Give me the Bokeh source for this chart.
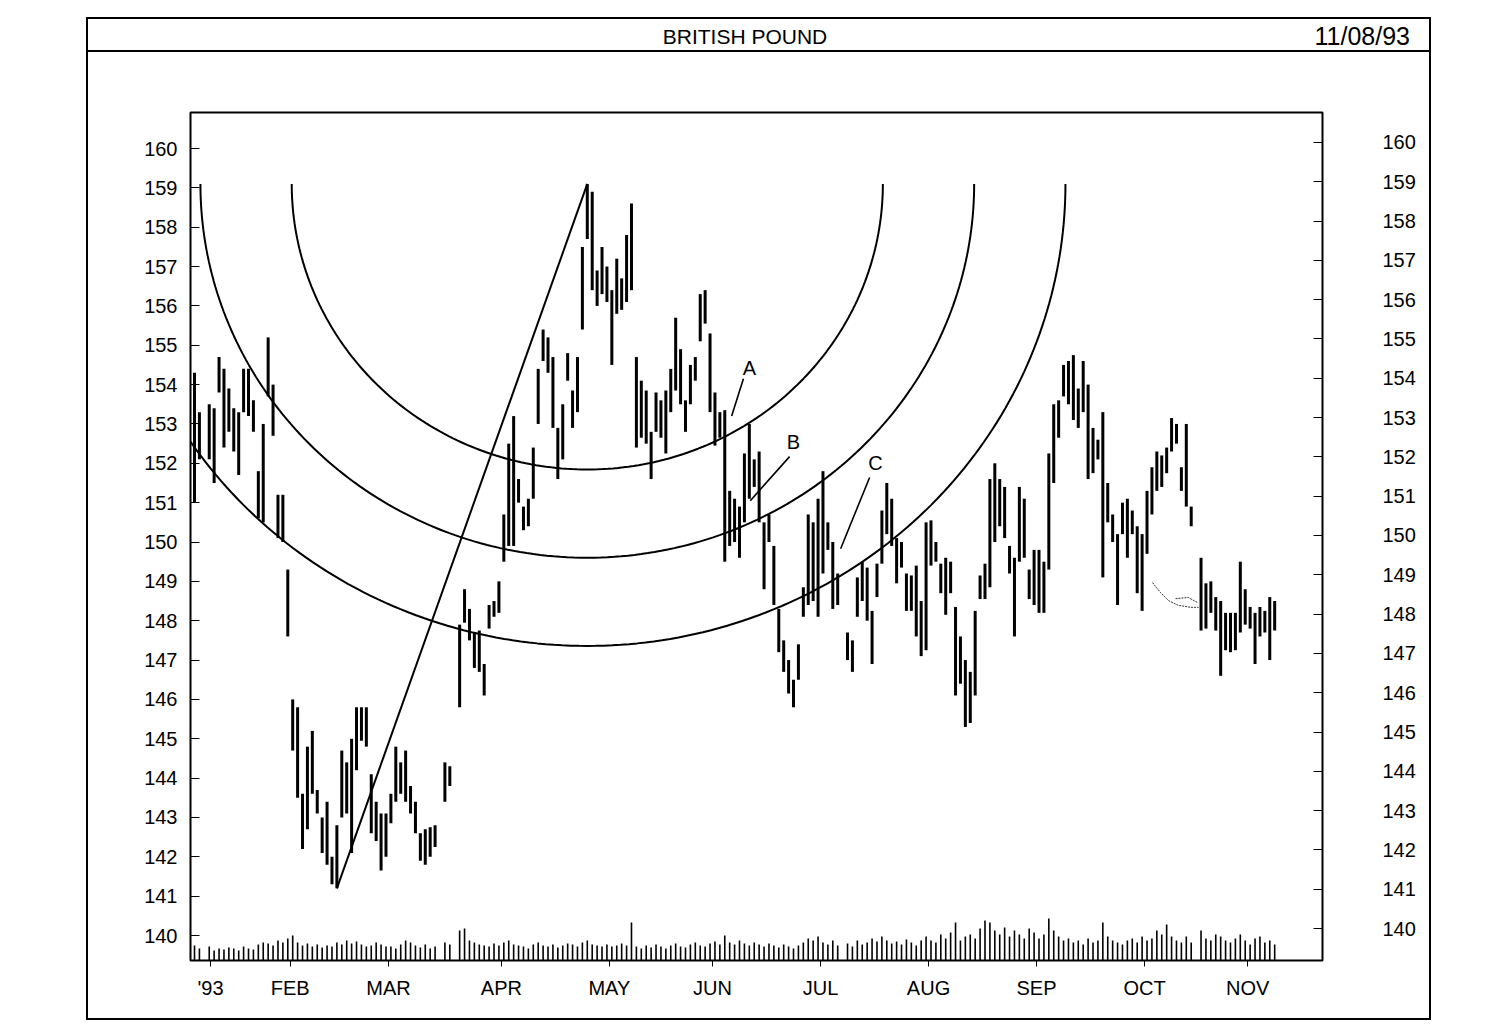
import math
import numpy as np
from bokeh.plotting import figure
from bokeh.models import Range1d, LinearAxis, FixedTicker, Div, Spacer
from bokeh.layouts import column, row
from bokeh.embed import file_html
from bokeh.resources import INLINE
from bokeh.core.properties import value

title = "BRITISH POUND"
date_text = "11/08/93"

# trading-day index (0 = first trading day of 1993)
day = [0, 1, 3, 4, 5, 6, 7, 8, 9, 10, 11, 12, 13, 14, 15, 16, 17, 18, 19,
       20, 21, 22, 23, 24, 25, 26, 27, 28, 29, 30, 31, 32, 33, 34, 35, 36, 37, 38, 39,
       40, 41, 42, 43, 44, 45, 46, 47, 48, 49, 51, 52, 54, 55, 56, 57, 58, 59, 60, 61, 62, 63, 64,
       65, 66, 67, 68, 69, 70, 71, 72, 73, 74, 75, 76, 77, 78, 79, 80, 81, 82, 83, 84, 85, 86, 87, 88, 89,
       90, 91, 92, 93, 94, 95, 96, 97, 98, 99, 100, 101, 102, 103, 104, 105, 106, 107, 108, 109,
       110, 111, 112, 113, 114, 115, 116, 117, 118, 119, 120, 121, 122, 123, 124, 125, 126, 127, 128,
       129, 130, 131, 133, 134, 135, 136, 137, 138, 139, 140, 141, 142, 143, 144, 145, 146, 147, 148,
       149, 150, 151, 152, 153, 154, 155, 156, 157, 158, 159, 160, 161, 162, 163, 164, 165, 166, 167,
       168, 169, 170, 171, 172, 173, 174, 175, 176, 177, 178, 179, 180, 181, 182, 183, 184, 185, 186,
       187, 188, 189, 190, 191, 192, 193, 194, 195, 196, 197, 198, 199, 200, 201, 202, 203,
       205, 206, 207, 208, 209, 210, 211, 212, 213, 214, 215, 216, 217, 218, 219, 220]

high = [154.3, 153.3, 153.5, 153.4, 154.7, 154.4, 153.9, 153.4, 153.3, 154.4, 154.4, 153.6, 151.8, 153.0, 155.2, 154.0, 151.2, 151.2, 149.3,
        146.0, 145.8, 143.6, 144.8, 145.2, 143.7, 143.0, 143.4, 142.0, 142.8, 144.7, 144.4, 145.0, 145.8, 145.8, 145.8, 144.1, 143.4, 143.1, 143.1,
        143.6, 144.8, 144.4, 144.7, 143.8, 143.4, 142.6, 142.7, 142.75, 142.8, 144.4, 144.3, 147.9, 148.8, 148.3, 147.7, 147.75, 146.9, 148.4, 148.5, 149.0, 150.7, 152.5,
        153.2, 151.6, 150.9, 151.1, 152.4, 154.4, 155.4, 155.2, 154.7, 152.9, 153.5, 154.8, 153.85, 154.7, 157.5, 159.1, 158.9, 156.9, 157.5, 157.0, 156.4, 157.2, 156.7, 157.8, 158.6,
        154.7, 154.1, 153.85, 152.8, 153.8, 153.6, 153.85, 154.4, 155.7, 154.9, 153.6, 154.5, 154.7, 156.3, 156.4, 155.3, 153.8, 153.3, 153.35, 151.3,
        151.1, 150.9, 152.25, 153.0, 152.1, 152.3, 150.5, 150.7, 149.9, 148.3, 147.5, 147.0, 146.5, 147.4, 148.85, 150.7, 150.5, 151.1, 151.8,
        150.5, 150.0, 149.2, 147.7, 147.5, 149.1, 149.5, 149.35, 148.25, 149.45, 150.8, 151.5, 151.1, 150.1, 150.0, 149.2, 149.15, 149.4, 148.5,
        150.5, 150.55, 150.0, 149.45, 149.6, 149.5, 148.35, 147.6, 147.0, 146.7, 148.25, 149.15, 149.45, 151.6, 152.0, 151.6, 151.4, 149.9, 149.6,
        151.4, 151.1, 149.3, 149.8, 149.8, 149.5, 152.25, 153.5, 153.6, 154.5, 154.6, 154.75, 153.9, 154.6, 154.0, 152.9, 152.6, 153.3, 151.5,
        150.7, 150.2, 151.0, 151.1, 150.8, 150.4, 150.2, 151.3, 151.9, 152.3, 152.2, 152.4, 153.15, 153.0, 151.9, 153.0, 150.9,
        149.6, 148.95, 149.0, 148.6, 148.5, 148.2, 148.2, 148.2, 149.5, 148.8, 148.35, 148.2, 148.35, 148.25, 148.6, 148.5]

low = [151.0, 152.1, 152.1, 151.5, 153.8, 152.4, 152.8, 152.3, 151.7, 153.3, 153.2, 152.8, 150.6, 150.5, 153.7, 152.7, 150.1, 150.0, 147.6,
       144.7, 143.5, 142.2, 142.7, 143.6, 143.1, 142.1, 141.8, 141.3, 141.2, 143.0, 143.1, 142.1, 144.2, 144.95, 144.8, 142.6, 142.4, 141.65, 142.0,
       142.85, 143.4, 143.6, 143.4, 143.1, 142.6, 141.9, 141.8, 142.0, 142.25, 143.4, 143.8, 145.8, 147.95, 147.5, 146.8, 146.7, 146.1, 147.8, 148.1, 148.2, 149.5, 149.9,
       149.9, 151.0, 150.3, 150.4, 151.1, 153.0, 154.6, 154.3, 152.9, 151.6, 152.1, 154.1, 152.9, 153.3, 155.4, 157.7, 156.4, 156.0, 156.3, 156.1, 154.5, 155.8, 155.9, 156.1, 156.4,
       152.4, 152.65, 152.5, 151.6, 152.8, 152.65, 152.25, 153.3, 153.85, 153.5, 152.8, 153.5, 154.1, 155.1, 155.55, 153.3, 152.45, 152.65, 149.5, 149.9,
       150.0, 149.6, 150.5, 151.1, 151.4, 150.5, 148.8, 150.0, 148.4, 147.2, 146.7, 146.15, 145.8, 146.5, 148.1, 148.4, 148.5, 148.1, 149.2,
       149.8, 148.3, 148.4, 147.0, 146.7, 148.1, 148.5, 148.0, 146.9, 148.6, 149.45, 150.2, 149.9, 148.95, 149.35, 148.25, 148.25, 147.6, 147.1,
       147.25, 149.4, 149.5, 148.7, 148.15, 148.7, 146.1, 146.4, 145.3, 145.4, 146.1, 148.55, 148.55, 148.85, 150.0, 150.4, 150.1, 149.2, 147.6,
       149.5, 149.6, 148.55, 148.4, 148.2, 148.2, 149.3, 151.5, 152.65, 153.7, 153.5, 153.1, 152.9, 153.3, 151.6, 151.75, 152.1, 149.1, 150.5,
       150.0, 148.4, 150.2, 149.6, 150.2, 148.7, 148.25, 149.7, 150.7, 151.3, 151.4, 151.75, 152.3, 152.5, 151.3, 150.9, 150.4,
       147.75, 147.8, 148.2, 147.75, 146.6, 147.25, 147.2, 147.25, 147.7, 147.9, 147.8, 146.9, 147.6, 147.7, 147.0, 147.75]

volume = [15, 12, 14, 10, 12, 11, 13, 12, 10, 14, 12, 11, 16, 18, 17, 15, 20, 18, 22,
          25, 18, 15, 17, 14, 16, 13, 15, 14, 18, 16, 20, 17, 19, 16, 14, 15, 18, 16, 14,
          14, 12, 16, 20, 18, 15, 13, 16, 12, 14, 18, 16, 30, 32, 20, 18, 16, 15, 14, 17, 15, 18, 20,
          16, 15, 14, 12, 16, 18, 15, 14, 16, 13, 15, 17, 16, 14, 18, 20, 16, 15, 14, 16, 14, 15, 17, 15, 38,
          14, 12, 15, 13, 16, 14, 12, 15, 17, 14, 13, 16, 18, 15, 14, 17, 19, 16, 25, 18,
          16, 20, 17, 15, 18, 16, 14, 17, 15, 13, 16, 14, 12, 15, 18, 22, 20, 24, 18,
          16, 20, 15, 17, 14, 20, 16, 18, 22, 19, 24, 20, 17, 19, 16, 21, 18, 15, 20,
          24, 20, 18, 26, 22, 28, 38, 20, 24, 26, 22, 32, 40, 38, 30, 26, 33, 24, 30,
          26, 22, 32, 28, 22, 26, 42, 30, 24, 20, 22, 18, 20, 16, 22, 18, 20, 38, 24,
          20, 18, 16, 20, 22, 18, 24, 20, 22, 30, 26, 36, 24, 20, 18, 24, 18,
          30, 22, 20, 26, 24, 20, 18, 22, 26, 20, 16, 22, 24, 18, 20, 16]

month_pos = [3.26, 19.5, 39.5, 62.5, 84.5, 105.5, 127.5, 149.5, 171.5, 193.5, 214.5]
month_lab = ["'93", "FEB", "MAR", "APR", "MAY", "JUN", "JUL", "AUG", "SEP", "OCT", "NOV"]
price_ticks = list(range(140, 161))

fib_ratios = [0.382, 0.5, 0.618]
arc_aspect = 1.035          # arcs are slightly wider than tall on the original chart
note_text = ["A", "B", "C"]
note_x = [113.0, 122.0, 138.7]
note_y = [154.43, 152.55, 152.0]
ptr_x0 = [111.8, 121.2, 137.5]
ptr_y0 = [154.15, 152.17, 151.64]
ptr_x1 = [109.4, 113.2, 131.6]
ptr_y1 = [153.2, 151.05, 149.83]
sketch_x = [195.1, 196.7, 198.4, 200.4, 202.9, 204.5]
sketch_y = [148.97, 148.72, 148.51, 148.39, 148.34, 148.34]
loop_x = [199.8, 202.4, 204.3]
loop_y = [148.56, 148.59, 148.46]

FONT = "Liberation Sans"
W = 1341
TH = 33
H = 966
BL, BR, BT, BB = 102, 107, 60, 58
X0, X1 = -0.815, 229.74
Y0, Y1 = 139.365, 160.915
FW, FH = W - BL - BR, H - BT - BB

# ---- title bar ----
title_html = (
    f'<div style="position:relative;width:{W}px;height:{TH}px;box-sizing:border-box;'
    f'border-bottom:2px solid black;font-family:\'{FONT}\';color:black;">'
    f'<span style="position:absolute;left:657px;top:18px;transform:translate(-50%,-50%);'
    f'font-size:21px;white-space:nowrap;">{title}</span>'
    f'<span style="position:absolute;right:19px;top:18px;transform:translateY(-50%);'
    f'font-size:25px;white-space:nowrap;">{date_text}</span></div>'
)
tdiv = Div(text=title_html, width=W, height=TH, margin=0)

# ---- main chart ----
p = figure(width=W, height=H, x_range=Range1d(X0, X1), y_range=Range1d(Y0, Y1),
           toolbar_location=None, output_backend="svg",
           min_border_left=BL, min_border_right=BR, min_border_top=BT, min_border_bottom=BB,
           x_axis_type=None, y_axis_type=None, margin=0)
p.grid.visible = False
p.outline_line_color = "black"
p.outline_line_width = 2
p.background_fill_color = "white"
p.border_fill_color = "white"
p.extra_y_ranges = {"right": Range1d(139.186, 160.763), "vol": Range1d(0, 848)}

xax = LinearAxis(ticker=FixedTicker(ticks=month_pos),
                 major_label_overrides={pos: lab for pos, lab in zip(month_pos, month_lab)})
xax.major_tick_in = 0
xax.major_tick_out = 6
xax.minor_tick_line_color = None
xax.axis_line_color = None
xax.major_label_standoff = 10
xax.major_label_text_font = FONT
xax.major_label_text_font_size = "20px"
xax.major_label_text_color = "black"
p.add_layout(xax, "below")

lax = LinearAxis(ticker=FixedTicker(ticks=price_ticks))
lax.major_tick_in = 9
lax.major_tick_out = 0
lax.minor_tick_line_color = None
lax.axis_line_color = None
lax.major_label_standoff = 13
lax.major_label_text_font = FONT
lax.major_label_text_font_size = "20px"
lax.major_label_text_color = "black"
p.add_layout(lax, "left")

rax = LinearAxis(y_range_name="right", ticker=FixedTicker(ticks=price_ticks))
rax.major_tick_in = 9
rax.major_tick_out = 0
rax.minor_tick_line_color = None
rax.axis_line_color = None
rax.major_label_standoff = 60
rax.major_label_text_font = FONT
rax.major_label_text_font_size = "20px"
rax.major_label_text_color = "black"
p.add_layout(rax, "right")

# volume
p.segment(x0=day, y0=[0] * len(day), x1=day, y1=volume, y_range_name="vol",
          line_color="black", line_width=1.6)
# price bars
p.segment(x0=day, y0=low, x1=day, y1=high, line_color="black", line_width=3)

# trend line low -> high and Fibonacci arcs centred on the high
i_lo = low.index(min(low))
i_hi = high.index(max(high))
xl, yl = day[i_lo], low[i_lo]
xh, yh = day[i_hi], high[i_hi]
p.line(x=[xl, xh], y=[yl, yh], line_color="black", line_width=2)
sx = FW / (X1 - X0)
sy = FH / (Y1 - Y0)
L = math.hypot((xh - xl) * sx, (yh - yl) * sy)
t = np.linspace(math.pi, 2 * math.pi, 181)
arc_xs = [list(xh + arc_aspect * r * L * np.cos(t) / sx) for r in fib_ratios]
arc_ys = [list(yh + r * L * np.sin(t) / sy) for r in fib_ratios]
p.multi_line(xs=arc_xs, ys=arc_ys, line_color="black", line_width=2)

# annotations
p.segment(x0=ptr_x0, y0=ptr_y0, x1=ptr_x1, y1=ptr_y1, line_color="black", line_width=1.6)
p.text(x=note_x, y=note_y, text=note_text, text_align="center", text_baseline="middle",
       text_font=value(FONT), text_font_size="20px", text_color="black")
p.line(x=sketch_x, y=sketch_y, line_color="black", line_width=0.8, line_dash="2 1")
p.line(x=loop_x, y=loop_y, line_color="black", line_width=0.8, line_dash="2 1")

inner = column(tdiv, p, spacing=0, margin=0, styles={"outline": "2px solid black"})
layout = column(Spacer(height=19, margin=0), row(Spacer(width=88, margin=0), inner, spacing=0, margin=0),
                spacing=0, margin=0)

open("out.html", "w").write(file_html(layout, INLINE))
